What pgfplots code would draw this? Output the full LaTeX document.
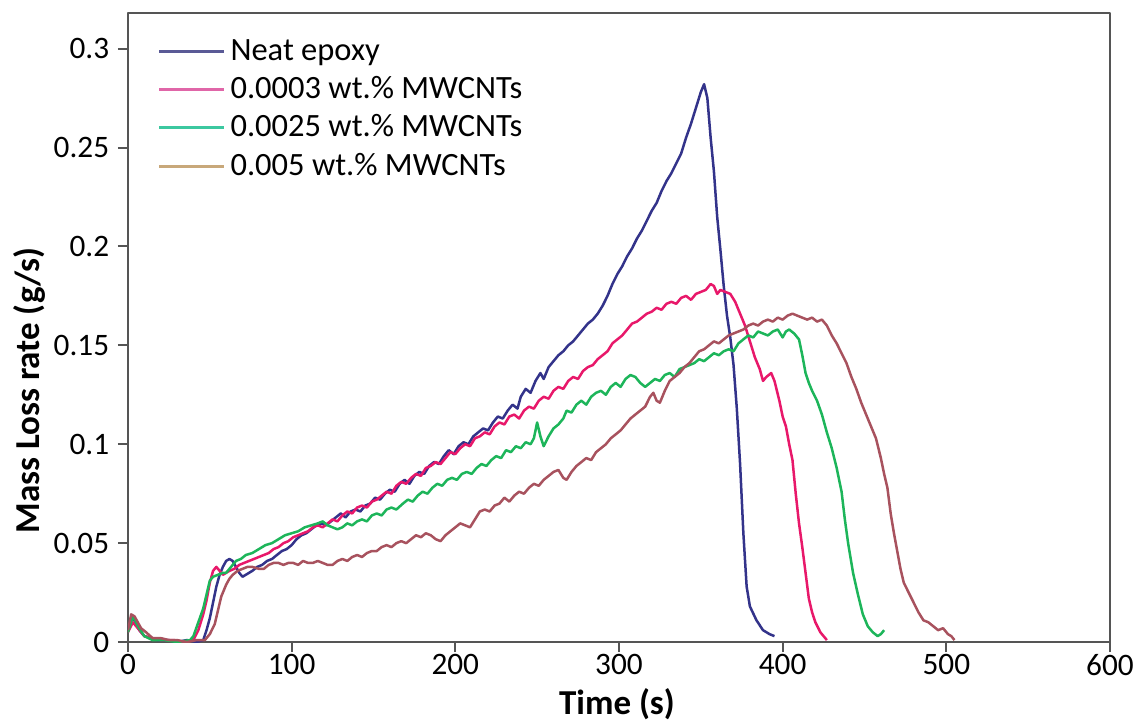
\documentclass[border=0pt]{standalone}
\usepackage{pgfplots}
\pgfplotsset{compat=1.18}
\usepackage{fontspec}
\setmainfont{Carlito}

\definecolor{cblue}{HTML}{33338A}
\definecolor{cred}{HTML}{E8186A}
\definecolor{cgreen}{HTML}{1DB55A}
\definecolor{cbrown}{HTML}{A8525E}
\definecolor{lblue}{HTML}{5A5A96}
\definecolor{lred}{HTML}{E066A8}
\definecolor{lgreen}{HTML}{3CC8A0}
\definecolor{lbrown}{HTML}{C8A87A}
\definecolor{axisgray}{HTML}{555555}

\begin{document}
\begin{tikzpicture}
\begin{axis}[
  scale only axis,
  width=392.8pt,
  height=251.6pt,
  xmin=0, xmax=600,
  ymin=0, ymax=0.318,
  xtick={0,100,...,600},
  ytick={0,0.05,0.1,0.15,0.2,0.25,0.3},
  /pgf/number format/assume math mode=true,
  yticklabel style={/pgf/number format/.cd,fixed,precision=2},
  xticklabel style={yshift=2.5pt},
  tick label style={font=\fontsize{12.5}{14}\selectfont},
  tick pos=left,
  tick align=outside,
  major tick length=4pt,
  tick style={axisgray, line width=0.8pt},
  axis line style={axisgray, line width=1pt},
  xlabel={\textbf{Time (s)}},
  ylabel={\textbf{Mass Loss rate (g/s)}},
  label style={font=\fontsize{14}{16}\selectfont},
  xlabel style={at={(axis description cs:0.498,-0.099)}, anchor=center},
  ylabel style={at={(axis description cs:-0.0998,0.40)}, anchor=center},
  legend style={at={(rel axis cs:0.022,0.975)}, anchor=north west,
    draw=none, fill=none, font=\fontsize{13}{16}\selectfont,
    row sep=1pt},
  legend cell align=left,
  legend image code/.code={\draw[#1] (0pt,0pt) -- (26pt,0pt);},
  line join=round,
]
\coordinate (bl) at (rel axis cs:-0.1303,-0.1256);
\coordinate (tr) at (rel axis cs:1.0275,1.0207);

% Neat epoxy
\addplot[cblue, line width=1pt, forget plot] coordinates {
(0,0.006) (2,0.012) (4,0.011) (7,0.006) (10,0.003) (14,0.002) (18,0.001) (25,0.001)
(30,0.000) (36,0.001) (42,0.000) (46,0.001) (48,0.006) (50,0.012) (52,0.020) (54,0.028)
(56,0.034) (58,0.038) (60,0.041) (62,0.042) (64,0.041) (66,0.038) (68,0.035) (70,0.033)
(72,0.034) (74,0.035) (76,0.036) (79,0.038) (82,0.039) (85,0.041) (88,0.042) (91,0.044)
(94,0.046) (97,0.047) (100,0.049) (103,0.052) (106,0.054) (109,0.055) (112,0.057) (115,0.059)
(118,0.060) (121,0.059) (124,0.061) (127,0.063) (130,0.065) (133,0.063) (136,0.066) (139,0.067)
(142,0.066) (145,0.069) (148,0.070) (151,0.073) (154,0.072) (157,0.075) (160,0.077) (163,0.076)
(166,0.080) (169,0.082) (172,0.080) (175,0.084) (178,0.086) (181,0.085) (184,0.089) (187,0.091)
(190,0.090) (193,0.094) (196,0.097) (199,0.095) (202,0.099) (205,0.101) (208,0.100) (211,0.104)
(214,0.106) (217,0.108) (220,0.107) (223,0.111) (226,0.114) (229,0.113) (232,0.117) (235,0.120)
(238,0.118) (240,0.124) (243,0.128) (246,0.126) (249,0.132) (252,0.136) (254,0.133) (257,0.139)
(260,0.142) (263,0.145) (266,0.147) (269,0.150) (272,0.152) (275,0.155) (278,0.158) (281,0.161)
(284,0.163) (287,0.166) (290,0.170) (293,0.175) (296,0.181) (299,0.186) (302,0.190) (305,0.195)
(308,0.199) (311,0.204) (314,0.208) (317,0.213) (320,0.218) (323,0.222) (326,0.228) (329,0.233)
(332,0.237) (335,0.242) (338,0.247) (341,0.255) (344,0.262) (347,0.270) (350,0.278) (352,0.282)
(354,0.275) (356,0.255) (358,0.238) (360,0.215) (362,0.198) (364,0.180) (366,0.165) (368,0.154)
(370,0.140) (372,0.118) (374,0.090) (376,0.055) (378,0.028) (380,0.018) (384,0.011) (388,0.006)
(392,0.004) (395,0.003)
};

% 0.0003 wt.% MWCNTs
\addplot[cred, line width=1pt, forget plot] coordinates {
(0,0.005) (3,0.010) (6,0.007) (10,0.003) (15,0.002) (20,0.001) (28,0.001) (34,0.000)
(40,0.001) (43,0.006) (46,0.014) (48,0.021) (50,0.030) (52,0.036) (54,0.038) (56,0.036)
(58,0.034) (60,0.035) (62,0.036) (65,0.037) (68,0.039) (71,0.040) (74,0.041) (77,0.042)
(80,0.043) (83,0.044) (86,0.045) (89,0.047) (92,0.048) (95,0.050) (98,0.051) (101,0.053)
(104,0.054) (107,0.055) (110,0.056) (113,0.058) (116,0.059) (119,0.058) (122,0.060) (125,0.062)
(128,0.061) (131,0.064) (134,0.066) (137,0.065) (140,0.068) (143,0.069) (146,0.068) (149,0.071)
(152,0.072) (155,0.074) (158,0.076) (161,0.075) (164,0.079) (167,0.081) (170,0.080) (173,0.083)
(176,0.085) (179,0.084) (182,0.088) (185,0.089) (188,0.091) (191,0.090) (194,0.093) (197,0.096)
(200,0.095) (203,0.098) (206,0.100) (209,0.099) (212,0.103) (215,0.104) (218,0.106) (221,0.105)
(224,0.109) (227,0.111) (230,0.110) (233,0.114) (236,0.115) (239,0.113) (242,0.117) (245,0.119)
(248,0.118) (251,0.122) (254,0.124) (257,0.123) (260,0.127) (263,0.129) (266,0.128) (269,0.132)
(272,0.134) (275,0.133) (278,0.137) (281,0.139) (284,0.140) (287,0.143) (290,0.145) (293,0.147)
(296,0.151) (299,0.153) (302,0.155) (305,0.158) (308,0.161) (311,0.162) (314,0.164) (317,0.166)
(320,0.167) (323,0.169) (326,0.168) (329,0.171) (332,0.172) (335,0.171) (338,0.174) (341,0.175)
(344,0.173) (347,0.176) (350,0.177) (353,0.178) (356,0.181) (358,0.180) (360,0.176) (362,0.178)
(365,0.177) (368,0.176) (371,0.172) (374,0.166) (377,0.160) (380,0.152) (383,0.144) (386,0.138)
(388,0.132) (390,0.134) (393,0.136) (395,0.132) (398,0.122) (400,0.114) (402,0.109) (404,0.100)
(406,0.092) (408,0.075) (410,0.060) (412,0.048) (414,0.035) (416,0.022) (418,0.015) (420,0.010)
(423,0.005) (425,0.003) (427,0.001)
};

% 0.0025 wt.% MWCNTs
\addplot[cgreen, line width=1pt, forget plot] coordinates {
(0,0.005) (3,0.013) (6,0.008) (10,0.003) (15,0.001) (22,0.001) (30,0.000) (38,0.001)
(40,0.003) (43,0.010) (46,0.017) (48,0.024) (50,0.031) (52,0.033) (55,0.034) (58,0.035)
(60,0.035) (63,0.038) (66,0.041) (69,0.042) (72,0.044) (76,0.045) (80,0.047) (84,0.049)
(88,0.050) (92,0.052) (96,0.054) (100,0.055) (104,0.056) (108,0.058) (112,0.059) (116,0.060)
(119,0.061) (122,0.059) (125,0.058) (128,0.057) (131,0.058) (134,0.060) (137,0.059) (140,0.061)
(143,0.062) (146,0.061) (149,0.064) (152,0.065) (155,0.064) (158,0.067) (161,0.068) (164,0.067)
(168,0.070) (171,0.072) (174,0.071) (177,0.074) (180,0.076) (183,0.075) (186,0.078) (189,0.080)
(192,0.079) (195,0.082) (198,0.083) (201,0.082) (204,0.085) (207,0.086) (210,0.085) (213,0.088)
(216,0.090) (219,0.089) (222,0.092) (225,0.094) (228,0.093) (231,0.097) (234,0.096) (237,0.099)
(240,0.098) (243,0.101) (246,0.100) (248,0.103) (250,0.111) (252,0.104) (254,0.099) (257,0.104)
(260,0.108) (263,0.110) (266,0.113) (268,0.117) (271,0.116) (274,0.120) (277,0.122) (280,0.120)
(283,0.124) (286,0.126) (289,0.127) (292,0.125) (295,0.129) (298,0.131) (301,0.129) (304,0.133)
(307,0.135) (310,0.134) (313,0.131) (316,0.129) (319,0.131) (322,0.133) (325,0.132) (328,0.135)
(331,0.136) (334,0.134) (337,0.138) (340,0.139) (343,0.140) (346,0.141) (349,0.143) (352,0.142)
(355,0.144) (358,0.146) (361,0.145) (364,0.147) (367,0.148) (370,0.147) (373,0.151) (376,0.153)
(379,0.155) (382,0.154) (385,0.157) (388,0.156) (391,0.155) (394,0.157) (397,0.158) (400,0.154)
(402,0.157) (404,0.158) (407,0.156) (410,0.153) (412,0.145) (414,0.136) (416,0.131) (418,0.127)
(421,0.122) (424,0.115) (427,0.106) (430,0.098) (433,0.088) (436,0.076) (438,0.062) (440,0.050)
(443,0.035) (446,0.024) (449,0.014) (452,0.008) (455,0.005) (458,0.003) (460,0.004) (462,0.006)
};

% 0.005 wt.% MWCNTs
\addplot[cbrown, line width=1pt, forget plot] coordinates {
(0,0.006) (2,0.014) (4,0.013) (6,0.010) (8,0.007) (11,0.005) (15,0.002) (20,0.002)
(25,0.001) (30,0.001) (36,0.000) (42,0.001) (47,0.001) (50,0.004) (53,0.009) (55,0.016)
(57,0.023) (60,0.029) (62,0.032) (64,0.034) (67,0.036) (70,0.037) (73,0.038) (76,0.038)
(80,0.037) (83,0.037) (86,0.039) (89,0.040) (92,0.040) (95,0.039) (98,0.040) (101,0.040)
(104,0.039) (107,0.041) (110,0.040) (113,0.040) (116,0.041) (119,0.040) (122,0.039) (125,0.039)
(128,0.041) (131,0.042) (134,0.041) (137,0.043) (140,0.044) (143,0.043) (146,0.045) (149,0.046)
(152,0.046) (155,0.048) (158,0.049) (161,0.048) (164,0.050) (167,0.051) (170,0.050) (173,0.052)
(176,0.054) (179,0.053) (182,0.055) (185,0.054) (188,0.052) (191,0.051) (194,0.054) (197,0.056)
(200,0.058) (203,0.060) (206,0.059) (209,0.058) (212,0.062) (215,0.066) (218,0.067) (221,0.066)
(224,0.069) (227,0.070) (230,0.073) (233,0.071) (236,0.074) (239,0.076) (242,0.075) (245,0.078)
(248,0.080) (251,0.079) (254,0.082) (257,0.084) (260,0.086) (263,0.087) (266,0.083) (268,0.082)
(271,0.086) (274,0.089) (277,0.091) (280,0.093) (283,0.092) (286,0.096) (289,0.098) (292,0.100)
(295,0.103) (298,0.105) (301,0.107) (304,0.110) (307,0.113) (310,0.115) (313,0.117) (316,0.119)
(319,0.124) (321,0.126) (323,0.122) (325,0.121) (328,0.127) (331,0.132) (334,0.134) (337,0.136)
(340,0.139) (343,0.141) (346,0.144) (349,0.147) (352,0.148) (355,0.150) (358,0.152) (361,0.151)
(364,0.153) (367,0.155) (370,0.156) (373,0.157) (376,0.158) (379,0.160) (382,0.161) (385,0.160)
(388,0.162) (391,0.163) (394,0.162) (397,0.164) (400,0.163) (403,0.165) (406,0.166) (409,0.165)
(412,0.164) (415,0.163) (418,0.164) (421,0.162) (424,0.163) (427,0.160) (430,0.155) (433,0.151)
(436,0.146) (439,0.141) (442,0.134) (445,0.128) (448,0.121) (451,0.115) (454,0.109) (457,0.103)
(460,0.093) (462,0.085) (464,0.078) (466,0.065) (468,0.055) (470,0.046) (472,0.037) (474,0.030)
(477,0.025) (480,0.020) (483,0.015) (486,0.011) (489,0.010) (492,0.008) (495,0.006) (498,0.007)
(501,0.004) (503,0.003) (505,0.001)
};

\addlegendimage{lblue, line width=1.2pt}
\addlegendentry{Neat epoxy}
\addlegendimage{lred, line width=1.2pt}
\addlegendentry{0.0003 wt.\% MWCNTs}
\addlegendimage{lgreen, line width=1.2pt}
\addlegendentry{0.0025 wt.\% MWCNTs}
\addlegendimage{lbrown, line width=1.2pt}
\addlegendentry{0.005 wt.\% MWCNTs}
\end{axis}
\pgfresetboundingbox
\path (bl) rectangle (tr);
\end{tikzpicture}
\end{document}
